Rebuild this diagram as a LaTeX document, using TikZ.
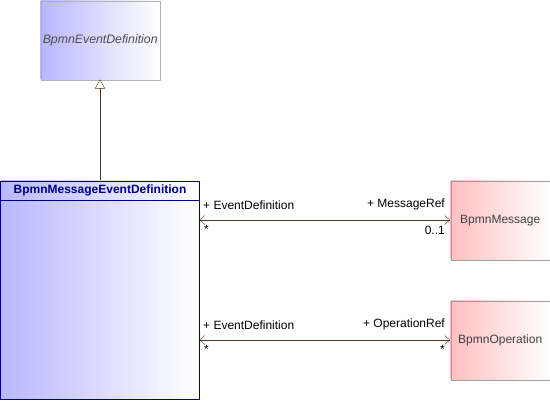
\documentclass[tikz,border=0pt]{standalone}
\usepackage{fontspec}
\setmainfont{Liberation Sans}
\usetikzlibrary{arrows.meta}

\tikzset{
  classbox/.style={draw, rectangle, inner sep=0pt, anchor=north west, font=\fontsize{12}{14}\selectfont},
  blueclass/.style={classbox, left color=blue!28, right color=white, shading angle=90},
  redclass/.style={classbox, left color=red!25, right color=white, draw=gray!75, text=black!75},
  assoc/.style={draw=brown!40!black, {Straight Barb[length=5pt,width=9pt]}-{Straight Barb[length=5pt,width=9pt]}},
  rolelabel/.style={font=\fontsize{12}{14}\selectfont, inner sep=1pt}
}

\begin{document}
\begin{tikzpicture}[x=1pt, y=-1pt]
\useasboundingbox (0,0) rectangle (550,400);

% general class
\node[blueclass, draw=gray!60, minimum width=119pt, minimum height=79pt, text=black!70, font=\fontsize{12.3}{14}\selectfont\itshape] (eventdef) at (40.5,0.5) {BpmnEventDefinition};

% specific class with header
\node[blueclass, draw=blue!50!black, line width=0.8pt, minimum width=198pt, minimum height=218pt] (msgdef) at (0.5,180.5) {};
\node[anchor=north, font=\fontsize{12}{14}\selectfont\bfseries, text=blue!50!black, inner sep=0pt] (msgtitle) at (100,184.5) {BpmnMessageEventDefinition};
\draw[blue!50!black, line width=0.8pt] (0.5,200) coordinate (hl) -- (198.5,200) coordinate (hr);

\node[redclass, minimum width=99pt, minimum height=79pt] (message) at (450.5,180.5) {BpmnMessage};
\node[redclass, minimum width=99pt, minimum height=79pt] (operation) at (450.5,300.5) {BpmnOperation};

% generalization
\coordinate (genbot) at (100,180);
\coordinate (gentop) at (100,79.5);
\draw[draw=brown!40!black, -{Triangle[open, length=9pt, width=10pt]}] (genbot) -- (gentop);

% associations
\coordinate (a1) at (199.5,220);
\coordinate (b1) at (450,220);
\coordinate (a2) at (199.5,340);
\coordinate (b2) at (450,340);
\draw[assoc] (a1) -- (b1);
\draw[assoc] (a2) -- (b2);

\node[rolelabel, anchor=south west] (r1a) at (202,211) {+ EventDefinition};
\node[rolelabel, anchor=south east] (r1b) at (446,211) {+ MessageRef};
\node[rolelabel, anchor=north west] (m1a) at (203,224) {*};
\node[rolelabel, anchor=north east] (m1b) at (446,225) {0..1};

\node[rolelabel, anchor=south west] (r2a) at (202,331) {+ EventDefinition};
\node[rolelabel, anchor=south east] (r2b) at (446,331) {+ OperationRef};
\node[rolelabel, anchor=north west] (m2a) at (203,344) {*};
\node[rolelabel, anchor=north east] (m2b) at (446,344) {*};
\end{tikzpicture}
\end{document}
